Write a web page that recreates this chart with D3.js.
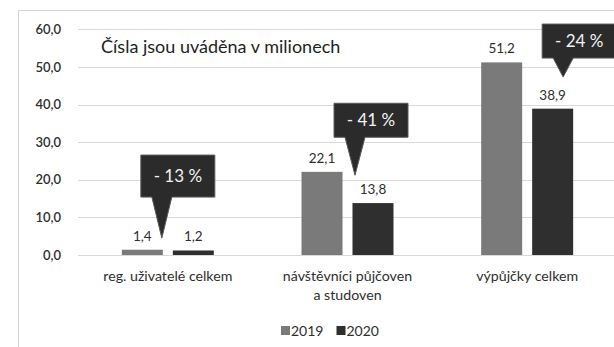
<!DOCTYPE html>
<html>
<head>
<meta charset="utf-8">
<script src="https://cdn.jsdelivr.net/npm/d3@7"></script>
<style>
  html, body { margin: 0; padding: 0; background: #fff; }
  svg { display: block; font-family: Lato, "Open Sans", sans-serif; }
</style>
</head>
<body>
<div id="chart"></div>
<script>
// Categories (the second one wraps onto two lines)
const categories = ["reg. uživatelé celkem", "návštěvníci půjčoven a studoven", "výpůjčky celkem"];
const categoryLines = [["reg. uživatelé celkem"], ["návštěvníci půjčoven", "a studoven"], ["výpůjčky celkem"]];
const years = ["2019", "2020"];
const values2019 = [1.4, 22.1, 51.2];
const values2020 = [1.2, 13.8, 38.9];
const yTicks = [0, 10, 20, 30, 40, 50, 60];
const subtitle = "Čísla jsou uváděna v milionech";
const changeLabels = ["- 13 %", "- 41 %", "- 24 %"];

const W = 614, H = 347;
const colors = { "2019": "#7a7a7a", "2020": "#2f2f2f" };
const textColor = "#2e2e2e";
const fmt = v => d3.format(".1f")(v).replace(".", ",");

const svg = d3.select("#chart").append("svg").attr("width", W).attr("height", H);

// outer chart frame
svg.append("rect")
  .attr("x", 18.5).attr("y", 10.5).attr("width", W + 10).attr("height", H + 10)
  .attr("fill", "#fff").attr("stroke", "#d4d4d4");

const plot = { left: 78, right: 617, top: 29.3, bottom: 255 };

const x = d3.scaleBand().domain(categories).range([plot.left, plot.right]).padding(0);
const xi = d3.scaleBand().domain(years).range([0, x.bandwidth()]).paddingInner(0.196).paddingOuter(0.86);
const y = d3.scaleLinear().domain([0, 60]).range([plot.bottom, plot.top]);

// gridlines
svg.append("g").selectAll("line").data(yTicks).join("line")
  .attr("x1", plot.left).attr("x2", W)
  .attr("y1", d => Math.round(y(d)) + 0.5).attr("y2", d => Math.round(y(d)) + 0.5)
  .attr("stroke", "#d9d9d9").attr("stroke-width", 1);

// y axis labels
const yAxis = d3.axisLeft(y).tickValues(yTicks).tickFormat(fmt).tickSize(0).tickPadding(0);
const yg = svg.append("g").attr("transform", "translate(61,0)").call(yAxis);
yg.select(".domain").remove();
yg.selectAll("text").attr("font-size", 13).attr("fill", textColor)
  .attr("font-family", "Lato, sans-serif").attr("font-weight", 600);

// bars
const rows = categories.map((c, i) => ({ cat: c, vals: [
  { year: "2019", v: values2019[i] }, { year: "2020", v: values2020[i] }] }));

const groups = svg.append("g").selectAll("g").data(rows).join("g")
  .attr("transform", d => `translate(${x(d.cat)},0)`);

groups.selectAll("rect").data(d => d.vals).join("rect")
  .attr("x", d => xi(d.year)).attr("width", xi.bandwidth())
  .attr("y", d => y(d.v)).attr("height", d => y(0) - y(d.v))
  .attr("fill", d => colors[d.year]);

groups.selectAll("text.val").data(d => d.vals).join("text").attr("class", "val")
  .attr("x", d => xi(d.year) + xi.bandwidth() / 2)
  .attr("y", d => y(d.v) - 9)
  .attr("text-anchor", "middle").attr("font-size", 13.5).attr("fill", textColor)
  .text(d => fmt(d.v));

// category labels
svg.append("g").selectAll("text").data(categories).join("text")
  .attr("x", d => x(d) + x.bandwidth() / 2)
  .attr("y", 281)
  .attr("text-anchor", "middle").attr("font-size", 14.2).attr("fill", textColor)
  .each(function(d, i) {
    d3.select(this).selectAll("tspan").data(categoryLines[i]).join("tspan")
      .attr("x", x(d) + x.bandwidth() / 2)
      .attr("dy", (t, j) => j === 0 ? 0 : 19)
      .text(t => t);
  });

// subtitle inside the plot
svg.append("text").attr("x", 101).attr("y", 53)
  .attr("font-size", 18).attr("fill", "#1e1e1e").text(subtitle);

// change callouts: tip position (band offset, value), pointer length, box height
const callouts = [
  { cat: 0, dx: -6, tipValue: 4.5, pointer: 41, boxH: 42 },
  { cat: 1, dx: 7.5, tipValue: 21.2, pointer: 38, boxH: 34 },
  { cat: 2, dx: 36, tipValue: 47.3, pointer: 19, boxH: 34 }
];
const cg = svg.append("g").selectAll("g").data(callouts).join("g");
cg.each(function(d) {
  const g = d3.select(this);
  const tx = x(categories[d.cat]) + x.bandwidth() / 2 + d.dx;
  const ty = y(d.tipValue);
  const bx = tx - 21, bw = 74;
  const bb = ty - d.pointer, bt = bb - d.boxH;
  const path = [
    [bx, bt], [bx + bw, bt], [bx + bw, bb], [tx + 10, bb], [tx, ty], [tx - 10, bb], [bx, bb]
  ];
  g.append("path").attr("d", d3.line()(path) + "Z")
    .attr("fill", "#2b2b2b").attr("stroke", "#5a5a5a").attr("stroke-width", 1);
  g.append("text").attr("x", bx + bw / 2).attr("y", (bt + bb) / 2 + 6)
    .attr("text-anchor", "middle").attr("font-size", 17).attr("fill", "#f2f2f2")
    .text(changeLabels[d.cat]);
});

// legend
const legend = svg.append("g").attr("transform", "translate(281,326)");
const li = legend.selectAll("g").data(years).join("g")
  .attr("transform", (d, i) => `translate(${i * 55.5},0)`);
li.append("rect").attr("width", 9).attr("height", 9).attr("fill", d => colors[d]);
li.append("text").attr("x", 10).attr("y", 9.5).attr("font-size", 14).attr("fill", textColor).text(d => d);
</script>
</body>
</html>
